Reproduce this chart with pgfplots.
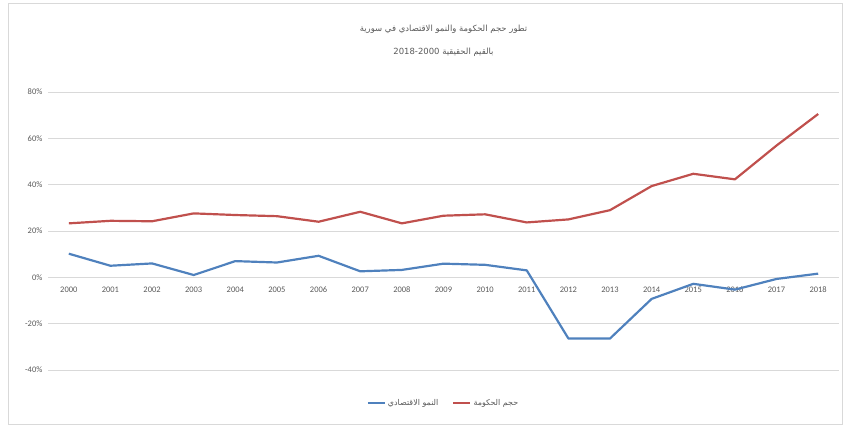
\documentclass[border=0pt]{standalone}
\usepackage{pgfplots}
\pgfplotsset{compat=1.18}
\usepackage{fontspec}
\setmainfont{Carlito}
\newfontfamily\arabicfont[Script=Arabic]{DejaVu Sans}
\TeXXeTstate=1
\definecolor{gdpblue}{RGB}{79,129,189}
\definecolor{govred}{RGB}{192,80,77}
\definecolor{ticktext}{RGB}{89,89,89}
\definecolor{gridgray}{RGB}{217,217,217}

\begin{document}
\begin{tikzpicture}
\useasboundingbox (0,0) rectangle (843bp,425bp);
\draw[gridgray] (8bp,1bp) rectangle (842bp,422bp);
\begin{axis}[
    at={(48bp,55bp)}, anchor=south west,
    scale only axis,
    width=791bp, height=278bp,
    xmin=1999.5, xmax=2018.5,
    ymin=-40, ymax=80,
    axis x line=middle,
    axis y line=left,
    x axis line style={gridgray, -},
    y axis line style={draw=none},
    xtick={2000,...,2018},
    xticklabel style={/pgf/number format/1000 sep={}, yshift=-4bp},
    xtick style={draw=none},
    ytick={-40,-20,0,20,40,60,80},
    yticklabels={-40\%,-20\%,0\%,20\%,40\%,60\%,80\%},
    ytick style={draw=none},
    ymajorgrids,
    grid style={gridgray, line width=0.8pt},
    tick label style={font=\fontsize{8.5}{10}\selectfont, text=ticktext},
    /pgf/number format/assume math mode=true,
    title={\arabicfont\beginR تطور حجم الحكومة والنمو الاقتصادي في سورية\endR\\[13bp]\arabicfont\beginR بالقيم الحقيقية \beginL 2018-2000\endL{}\endR},
    title style={at={(0.5,1)}, anchor=south, yshift=26bp, align=center,
        font=\fontsize{8.5}{10}\selectfont, text=ticktext},
    legend style={at={(0.5,0)}, anchor=north, yshift=-25bp, draw=none,
        font=\fontsize{8}{9}\selectfont, text=ticktext,
        /tikz/every even column/.append style={column sep=12bp}},
    legend columns=2,
    legend image post style={line width=2.2pt},
]
\addplot[gdpblue, line width=2.2pt, line join=round] coordinates {
(2000,10.2) (2001,5.0) (2002,6.0) (2003,1.0) (2004,7.0) (2005,6.4) (2006,9.3)
(2007,2.6) (2008,3.2) (2009,5.9) (2010,5.4) (2011,3.0) (2012,-26.4) (2013,-26.4)
(2014,-9.3) (2015,-2.8) (2016,-5.3) (2017,-0.7) (2018,1.6)};
\addlegendentry{\arabicfont\beginR النمو الاقتصادي\endR}
\addplot[govred, line width=2.2pt, line join=round] coordinates {
(2000,23.3) (2001,24.4) (2002,24.2) (2003,27.6) (2004,26.9) (2005,26.4) (2006,24.0)
(2007,28.3) (2008,23.3) (2009,26.6) (2010,27.2) (2011,23.7) (2012,25.0) (2013,29.0)
(2014,39.4) (2015,44.7) (2016,42.3) (2017,56.9) (2018,70.5)};
\addlegendentry{\arabicfont\beginR حجم الحكومة\endR}
\end{axis}
\end{tikzpicture}
\end{document}
